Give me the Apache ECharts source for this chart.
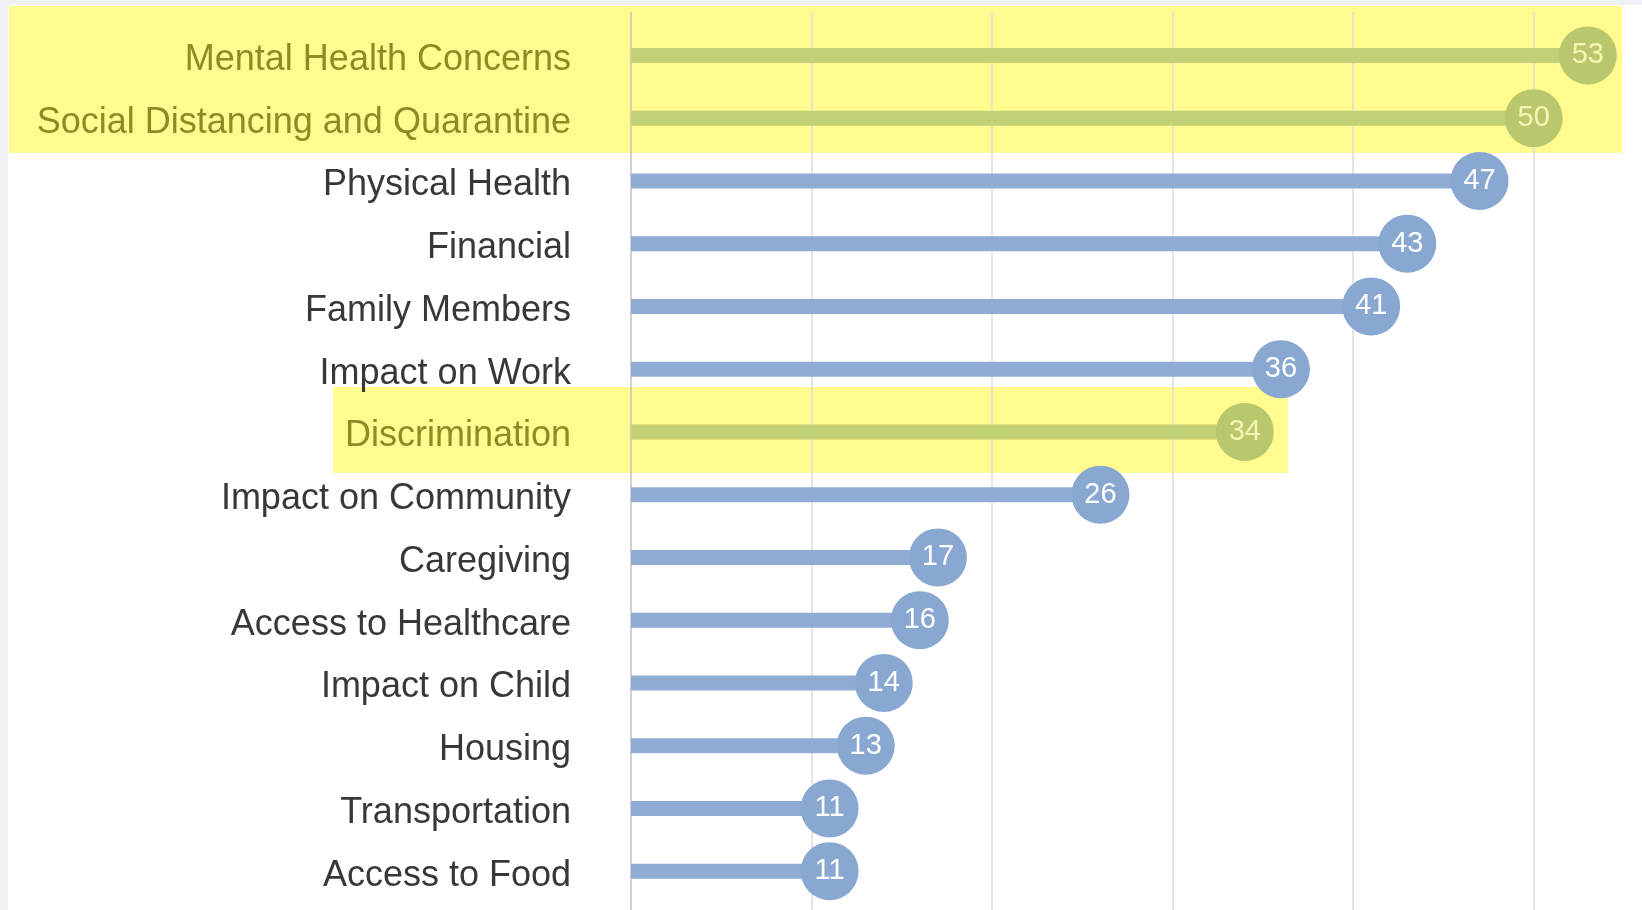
<!DOCTYPE html>
<html>
<head>
<meta charset="utf-8">
<script src="https://cdn.jsdelivr.net/npm/echarts@6/dist/echarts.min.js"></script>
<style>
html,body{margin:0;padding:0;background:#ffffff;}
#chart{width:1642px;height:910px;}
</style>
</head>
<body>
<div id="chart"></div>
<script>
// ---- data ----
const categories = [
  'Mental Health Concerns',
  'Social Distancing and Quarantine',
  'Physical Health',
  'Financial',
  'Family Members',
  'Impact on Work',
  'Discrimination',
  'Impact on Community',
  'Caregiving',
  'Access to Healthcare',
  'Impact on Child',
  'Housing',
  'Transportation',
  'Access to Food'
];
const values = [53, 50, 47, 43, 41, 36, 34, 26, 17, 16, 14, 13, 11, 11];
const highlighted = ['Mental Health Concerns', 'Social Distancing and Quarantine', 'Discrimination'];

// ---- styles ----
const FONT = '"Liberation Sans", Arial, sans-serif';
const BLUE_BAR = '#8eacd4';
const BLUE_DOT = '#88a7d1';
const GREEN_BAR = '#c3d176';
const GREEN_DOT = '#b9c86c';
const YELLOW = '#fffb8e';
const TEXT = '#383838';
const OLIVE = '#8c8c26';

const isHi = (c) => highlighted.indexOf(c) >= 0;

const chart = echarts.init(document.getElementById('chart'), null, {renderer: 'canvas'});

const gridColors = ['#c2c2c2', '#dcdcdc', '#dcdcdc', '#dcdcdc', '#dcdcdc', '#dcdcdc', '#dcdcdc'];

const option = {
  backgroundColor: '#ffffff',
  animation: false,
  graphic: [
    {type: 'rect', z: -10, shape: {x: 0, y: 0, width: 1642, height: 5}, style: {fill: '#eef0f4'}},
    {type: 'rect', z: -10, shape: {x: 0, y: 0, width: 8, height: 910}, style: {fill: '#eef0f4'}},
    {type: 'rect', z: -10, shape: {x: 9, y: 6, width: 1613, height: 147}, style: {fill: YELLOW}},
    {type: 'rect', z: -10, shape: {x: 333, y: 387, width: 955, height: 86}, style: {fill: YELLOW}}
  ],
  grid: [
    {left: 631, right: 0, top: 24, bottom: 7.5, containLabel: false},
    {left: 631, right: 0, top: 12, bottom: 0, containLabel: false}
  ],
  xAxis: [
    {
      type: 'value', gridIndex: 0, min: 0, max: 56, interval: 10,
      axisLine: {show: false}, axisTick: {show: false}, axisLabel: {show: false},
      splitLine: {show: false}
    },
    {
      type: 'value', gridIndex: 1, min: 0, max: 56, interval: 10,
      axisLine: {show: false}, axisTick: {show: false}, axisLabel: {show: false},
      splitLine: {show: true, showMaxLine: false, lineStyle: {color: gridColors, width: 1.5}}
    }
  ],
  yAxis: [
    {
      type: 'category', gridIndex: 0, data: categories, inverse: true,
      axisLine: {show: false}, axisTick: {show: false}, splitLine: {show: false},
      axisLabel: {
        margin: 60,
        formatter: (v) => (isHi(v) ? '{h|' + v + '}' : '{n|' + v + '}'),
        rich: {
          h: {color: OLIVE, fontSize: 36, fontFamily: FONT, padding: [9, 0, 0, 0]},
          n: {color: TEXT, fontSize: 36, fontFamily: FONT, padding: [9, 0, 0, 0]}
        }
      }
    },
    {
      type: 'value', gridIndex: 1, show: false
    }
  ],
  series: [
    {
      type: 'bar', xAxisIndex: 0, yAxisIndex: 0, barWidth: 15, z: 2,
      data: values.map((v, i) => ({
        value: v,
        itemStyle: {color: isHi(categories[i]) ? GREEN_BAR : BLUE_BAR}
      }))
    },
    {
      type: 'scatter', xAxisIndex: 0, yAxisIndex: 0, symbol: 'circle', symbolSize: 58, z: 3,
      data: values.map((v, i) => ({
        value: [v, categories[i]],
        itemStyle: {color: isHi(categories[i]) ? GREEN_DOT : BLUE_DOT, opacity: 1},
        label: {color: isHi(categories[i]) ? '#f6f4b4' : '#ffffff'}
      })),
      label: {
        show: true, position: 'inside', fontSize: 29, fontFamily: FONT,
        formatter: (p) => p.value[0]
      }
    }
  ]
};

chart.setOption(option);
</script>
</body>
</html>
